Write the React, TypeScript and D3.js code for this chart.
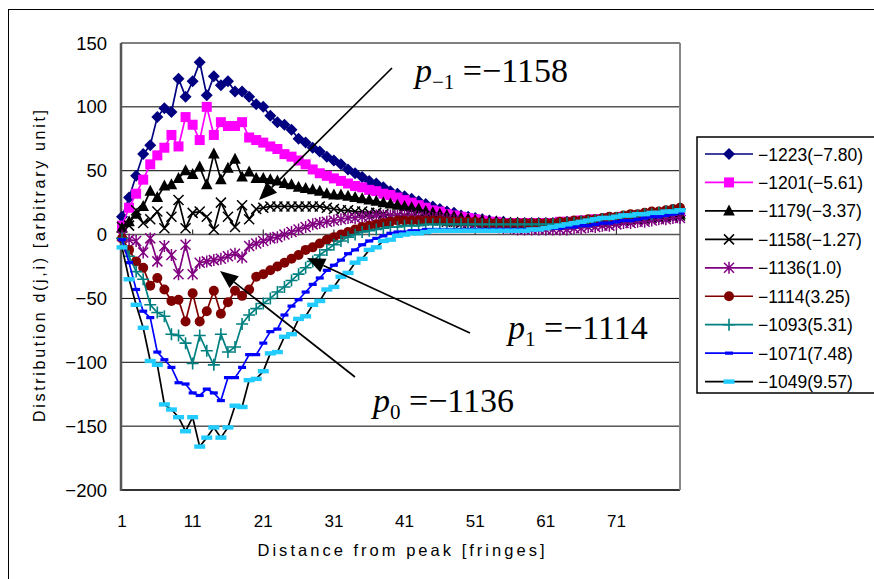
import * as d3 from "d3";

// category index along the x axis (fringes from the peak)
const fringe = d3.range(1, 81);
const xTicks = [1, 11, 21, 31, 41, 51, 61, 71];
const yTicks = [150, 100, 50, 0, -50, -100, -150, -200];

const legendNames = [
  "−1223(−7.80)", "−1201(−5.61)", "−1179(−3.37)", "−1158(−1.27)", "−1136(1.0)",
  "−1114(3.25)", "−1093(5.31)", "−1071(7.48)", "−1049(9.57)",
];

const s1223 = [
  14, 29, 46, 63, 70, 92, 99, 96, 122, 108, 120, 135, 109, 124, 117, 120, 112, 112,
  108, 102, 100, 93, 88, 86, 82, 75, 72, 68, 65, 61,
  58, 55, 51, 48, 45, 42, 40, 37, 34, 32, 30, 28, 26, 24, 22,
  20, 18, 17, 15, 14, 13, 12, 11, 10, 10, 9, 9, 9, 9, 9,
  9, 9, 9, 10, 10, 10, 11, 11, 11, 12, 12, 12, 13, 13, 13, 14, 14, 14, 15, 15,
];
const s1201 = [
  7, 21, 32, 43, 55, 62, 68, 78, 69, 92, 86, 74, 100, 78, 88, 85, 85, 88,
  76, 74, 72, 69, 67, 63, 61, 58, 55, 51, 48, 46,
  44, 42, 40, 38, 37, 35, 34, 32, 31, 29, 27, 25, 23, 21, 19,
  18, 16, 15, 14, 13, 12, 11, 10, 10, 9, 9, 9, 9, 9, 9,
  9, 9, 10, 10, 10, 11, 11, 12, 12, 13, 13, 14, 14, 15, 15, 16, 16, 16, 17, 17,
];
const s1179 = [
  5, 10, 16, 22, 34, 29, 38, 39, 44, 50, 47, 53, 39, 63, 43, 52, 59, 45,
  49, 44, 44, 43, 42, 40, 39, 37, 36, 35, 34, 32,
  31, 31, 30, 29, 28, 27, 26, 25, 24, 23, 22, 21, 20, 18, 17,
  16, 15, 14, 13, 12, 11, 11, 10, 10, 9, 9, 9, 8, 8, 8,
  8, 8, 9, 9, 9, 10, 10, 11, 11, 12, 12, 13, 13, 14, 14, 14, 15, 15, 16, 16,
];
const s1158 = [
  6, 7, 19, 9, 12, 18, 5, 14, 27, 5, 17, 18, 14, 4, 25, 14, 6, 23, 12, 20,
  21, 22, 22, 22, 22, 22, 22, 22, 22, 21, 20, 19, 19, 18, 18,
  17, 17, 16, 15, 15, 14, 13, 13, 12, 11, 11, 10, 10, 9, 9,
  9, 8, 8, 8, 8, 7, 7, 7, 7, 7, 7, 8, 8, 8, 9,
  9, 9, 10, 10, 10, 11, 11, 12, 12, 12, 13, 13, 14, 14, 15,
];
const s1136 = [
  -1, -4, -5, -14, -3, -21, -9, -16, -31, -8, -31, -22, -21, -20, -19, -17, -15, -18,
  -9, -7, -5, -3, -2, 0, 2, 4, 6, 8, 9, 10,
  11, 12, 13, 13, 14, 14, 15, 15, 15, 15, 15, 15, 14, 14, 13,
  13, 12, 11, 10, 9, 8, 7, 6, 6, 5, 5, 4, 4, 4, 4,
  4, 4, 4, 4, 5, 5, 6, 6, 7, 7, 8, 9, 9, 10, 10, 11, 12, 12, 13, 13,
];
const s1114 = [
  -3, -12, -21, -26, -40, -34, -43, -52, -51, -68, -46, -68, -60, -44, -62, -53, -44, -48,
  -43, -33, -31, -28, -25, -22, -19, -16, -12, -10, -7, -4,
  -2, 0, 2, 4, 6, 7, 8, 9, 10, 11, 11, 11, 11, 11, 11,
  11, 10, 10, 10, 10, 10, 9, 9, 9, 9, 9, 9, 9, 9, 9,
  9, 9, 10, 10, 11, 11, 12, 12, 13, 14, 14, 15, 16, 16, 17, 18, 18, 19, 20, 21,
];
const s1093 = [
  -3, -17, -29, -35, -55, -61, -64, -78, -79, -85, -101, -79, -91, -102, -78, -92, -88, -70,
  -63, -58, -54, -50, -45, -41, -36, -31, -26, -21, -16, -12,
  -8, -5, -2, 0, 2, 3, 4, 5, 6, 6, 7, 7, 7, 8, 8,
  8, 8, 8, 8, 8, 8, 8, 8, 8, 8, 8, 8, 8, 8, 8,
  8, 8, 8, 9, 9, 10, 10, 11, 12, 12, 13, 14, 14, 15, 16, 16, 17, 18, 19, 20,
];
const s1071 = [
  -4, -22, -43, -60, -65, -92, -98, -104, -116, -117, -124, -126, -121, -124, -130, -112, -112, -104,
  -94, -94, -85, -76, -74, -63, -56, -51, -45, -39, -34, -28,
  -24, -20, -15, -12, -8, -5, -3, -1, 1, 2, 2, 3, 3, 4, 4,
  4, 4, 4, 4, 4, 4, 4, 4, 4, 4, 4, 4, 4, 4, 4,
  5, 5, 5, 6, 6, 7, 7, 8, 9, 9, 10, 11, 11, 12, 13, 14, 14, 15, 16, 17,
];
const s1049 = [
  -10, -35, -55, -73, -99, -102, -133, -137, -143, -154, -143, -166, -159, -151, -159, -151, -134, -135,
  -114, -113, -107, -93, -92, -80, -78, -66, -64, -55, -52, -43,
  -41, -33, -30, -22, -19, -12, -10, -5, -4, -1, 0, 1, 1, 2, 3,
  3, 3, 3, 3, 3, 3, 3, 3, 3, 3, 3, 3, 3, 4, 4,
  5, 6, 7, 8, 9, 10, 11, 12, 13, 13, 14, 15, 15, 16, 16, 17, 17, 18, 18, 19,
];

const series = [
  { values: s1223, line: "#000080", fill: "#000080", marker: "diamond" },
  { values: s1201, line: "#ff00ff", fill: "#ff00ff", marker: "square" },
  { values: s1179, line: "#000000", fill: "#000000", marker: "triangle" },
  { values: s1158, line: "#000000", fill: "#000000", marker: "x" },
  { values: s1136, line: "#800080", fill: "#800080", marker: "asterisk" },
  { values: s1114, line: "#800000", fill: "#800000", marker: "circle" },
  { values: s1093, line: "#008080", fill: "#008080", marker: "plus" },
  { values: s1071, line: "#0000ff", fill: "#0000ff", marker: "dashSmall" },
  { values: s1049, line: "#000000", fill: "#22ccff", marker: "dashBig" },
];

const FONT = "'Liberation Sans', Arial, sans-serif";
const SERIF = "'Liberation Serif', 'Times New Roman', serif";

function Marker({ kind, cx, cy, color }: { kind: string; cx: number; cy: number; color: string }) {
  switch (kind) {
    case "diamond":
      return <path d={`M${cx},${cy - 6}L${cx + 6},${cy}L${cx},${cy + 6}L${cx - 6},${cy}Z`} fill={color} />;
    case "square":
      return <rect x={cx - 5} y={cy - 5} width={10} height={10} fill={color} />;
    case "triangle":
      return <path d={`M${cx},${cy - 6.5}L${cx + 5.8},${cy + 4.5}L${cx - 5.8},${cy + 4.5}Z`} fill={color} />;
    case "x":
      return (
        <path d={`M${cx - 5},${cy - 5}L${cx + 5},${cy + 5}M${cx - 5},${cy + 5}L${cx + 5},${cy - 5}`}
          stroke={color} strokeWidth={1.5} fill="none" />
      );
    case "asterisk":
      return (
        <path d={`M${cx - 5},${cy - 5}L${cx + 5},${cy + 5}M${cx - 5},${cy + 5}L${cx + 5},${cy - 5}M${cx},${cy - 6}L${cx},${cy + 6}`}
          stroke={color} strokeWidth={1.5} fill="none" />
      );
    case "circle":
      return <circle cx={cx} cy={cy} r={5} fill={color} />;
    case "plus":
      return (
        <path d={`M${cx - 6},${cy}L${cx + 6},${cy}M${cx},${cy - 6}L${cx},${cy + 6}`}
          stroke={color} strokeWidth={1.6} fill="none" />
      );
    case "dashSmall":
      return <rect x={cx - 4} y={cy - 1.6} width={8} height={3.2} fill={color} />;
    case "dashBig":
      return <rect x={cx - 5.5} y={cy - 2.2} width={11} height={4.4} fill={color} />;
    default:
      return null;
  }
}

function Arrow({ x1, y1, x2, y2 }: { x1: number; y1: number; x2: number; y2: number }) {
  const a = Math.atan2(y2 - y1, x2 - x1);
  const len = 18, half = 7.5;
  const bx = x2 - len * Math.cos(a), by = y2 - len * Math.sin(a);
  const px = -Math.sin(a) * half, py = Math.cos(a) * half;
  return (
    <g>
      <line x1={x1} y1={y1} x2={bx} y2={by} stroke="#000" strokeWidth={1.7} />
      <path d={`M${x2},${y2}L${bx + px},${by + py}L${bx - px},${by - py}Z`} fill="#000" />
    </g>
  );
}

export default function App() {
  const width = 874, height = 579;
  const plot = { left: 121, right: 680, top: 43, bottom: 490 };
  const x = d3.scaleLinear().domain([1, 80]).range([122, plot.right]);
  const y = d3.scaleLinear().domain([-200, 150]).range([plot.bottom, plot.top]);
  const line = d3.line<number>().x((_, i) => x(fringe[i])).y((d) => y(d));

  const legendX = 697, legendY = 137, rowH = 28.45;

  return (
    <svg width={width} height={height} style={{ position: "absolute", left: 0, top: 0, background: "#fff" }}>
      <rect x={0} y={0} width={width} height={height} fill="#fff" />
      <rect x={8.5} y={9.5} width={900} height={600} fill="none" stroke="#000" strokeWidth={1} />

      {/* grid */}
      {yTicks.filter((t) => t !== 0 && t !== -200).map((t) => (
        <line key={t} x1={plot.left} x2={plot.right} y1={y(t)} y2={y(t)} stroke="#000" strokeWidth={1} />
      ))}
      <line x1={plot.left} x2={plot.right} y1={y(-200)} y2={y(-200)} stroke="#333" strokeWidth={2} />
      <line x1={plot.right} x2={plot.right} y1={plot.top} y2={plot.bottom} stroke="#888" strokeWidth={2} />
      <line x1={plot.left} x2={plot.right} y1={y(0)} y2={y(0)} stroke="#555" strokeWidth={1.5} />
      {xTicks.map((t) => (
        <line key={t} x1={x(t)} x2={x(t)} y1={y(0)} y2={y(0) - 5} stroke="#333" strokeWidth={1.2} />
      ))}
      <line x1={plot.left} x2={plot.left} y1={plot.top} y2={plot.bottom + 1} stroke="#555" strokeWidth={2.5} />

      {/* y labels */}
      {yTicks.map((t) => (
        <text key={t} x={107} y={y(t) + 6.5} textAnchor="end" fontFamily={FONT} fontSize={18.5} fill="#000">
          {t < 0 ? "−" + Math.abs(t) : t}
        </text>
      ))}
      {/* x labels */}
      {xTicks.map((t) => (
        <text key={t} x={x(t)} y={527} textAnchor="middle" fontFamily={FONT} fontSize={17} fill="#000">
          {t}
        </text>
      ))}
      <text x={401} y={556} textAnchor="middle" fontFamily={FONT} fontSize={16.5} textLength={287}
        lengthAdjust="spacing" fill="#000">
        Distance from peak [fringes]
      </text>
      <text transform="translate(45,266) rotate(-90)" textAnchor="middle" fontFamily={FONT} fontSize={16}
        textLength={312} lengthAdjust="spacing" fill="#000">
        Distribution d(j,i) [arbitrary unit]
      </text>

      {/* series */}
      {series.map((s, k) => (
        <g key={k}>
          <path d={line(s.values) || ""} fill="none" stroke={s.line} strokeWidth={1.7} />
          {s.values.map((v, i) => (
            <Marker key={i} kind={s.marker} cx={x(fringe[i])} cy={y(v)} color={s.fill} />
          ))}
        </g>
      ))}

      {/* annotations */}
      <Arrow x1={392} y1={68} x2={259} y2={200} />
      <Arrow x1={470} y1={333} x2={307} y2={258} />
      <Arrow x1={355} y1={377} x2={220} y2={271} />
      <text x={415} y={82} fontFamily={SERIF} fontSize={34} fill="#000">
        <tspan fontStyle="italic">p</tspan>
        <tspan dy={7} fontSize={21}>−1</tspan>
        <tspan dy={-7}> =−1158</tspan>
      </text>
      <text x={508} y={339} fontFamily={SERIF} fontSize={34} fill="#000">
        <tspan fontStyle="italic">p</tspan>
        <tspan dy={7} fontSize={21}>1</tspan>
        <tspan dy={-7}> =−1114</tspan>
      </text>
      <text x={373} y={412} fontFamily={SERIF} fontSize={34} fill="#000">
        <tspan fontStyle="italic">p</tspan>
        <tspan dy={7} fontSize={21}>0</tspan>
        <tspan dy={-7}> =−1136</tspan>
      </text>

      {/* legend */}
      <rect x={legendX} y={legendY} width={200} height={256} fill="#fff" stroke="#000" strokeWidth={1.5} />
      {series.map((s, k) => {
        const cy = 154 + k * rowH;
        return (
          <g key={k}>
            <line x1={705} x2={753} y1={cy} y2={cy} stroke={s.line} strokeWidth={1.7} />
            <Marker kind={s.marker} cx={729} cy={cy} color={s.fill} />
            <text x={758} y={cy + 6.5} fontFamily={FONT} fontSize={17.5} fill="#000">
              {legendNames[k]}
            </text>
          </g>
        );
      })}
    </svg>
  );
}
